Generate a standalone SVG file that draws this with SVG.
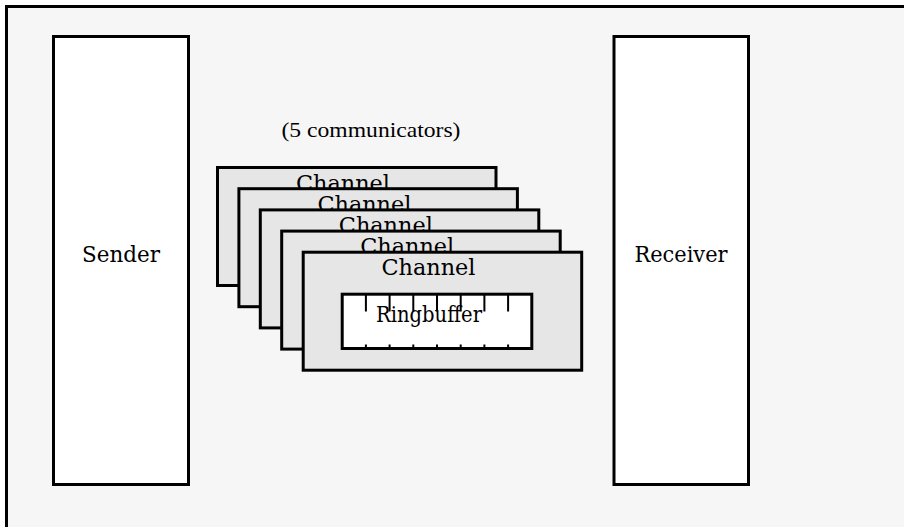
<svg xmlns="http://www.w3.org/2000/svg" width="904" height="527" viewBox="0 0 904 527">
  <style>
    .box { stroke: #000; stroke-width: 3; }
    .side { fill: #fff; }
    .chan { fill: #e6e6e6; }
    .ring { fill: #fff; }
    .tick { stroke: #000; stroke-width: 2; }
    .lbl { font-family: "DejaVu Serif", "Liberation Serif", serif; font-size: 23px; fill: #000; }
    .note { font-family: "Liberation Serif", serif; font-size: 22px; fill: #000; }
  </style>
  <rect x="0" y="0" width="904" height="527" fill="#fff"/>
  <!-- outer frame, running off the right and bottom edges -->
  <rect x="6.5" y="6.5" width="1000" height="1000" fill="#f6f6f6" class="box"/>

  <g id="sender">
    <rect x="53.5" y="36.5" width="135" height="448" class="box side"/>
    <text x="121" y="262" text-anchor="middle" class="lbl" textLength="78" lengthAdjust="spacingAndGlyphs">Sender</text>
  </g>

  <g id="receiver">
    <rect x="614" y="36.5" width="134.5" height="448" class="box side"/>
    <text x="681" y="262" text-anchor="middle" class="lbl" textLength="93" lengthAdjust="spacingAndGlyphs">Receiver</text>
  </g>

  <text id="count-note" x="281.5" y="137" class="note" textLength="179" lengthAdjust="spacingAndGlyphs">(5 communicators)</text>

  <!-- stacked channels, back to front -->
  <g id="channel-1">
    <rect x="217.5" y="167.5" width="278.5" height="118" class="box chan"/>
    <text x="296" y="190.5" class="lbl" textLength="94" lengthAdjust="spacingAndGlyphs">Channel</text>
  </g>
  <g id="channel-2">
    <rect x="238.9" y="188.7" width="278.5" height="118" class="box chan"/>
    <text x="317.4" y="211.7" class="lbl" textLength="94" lengthAdjust="spacingAndGlyphs">Channel</text>
  </g>
  <g id="channel-3">
    <rect x="260.3" y="209.9" width="278.5" height="118" class="box chan"/>
    <text x="338.8" y="232.9" class="lbl" textLength="94" lengthAdjust="spacingAndGlyphs">Channel</text>
  </g>
  <g id="channel-4">
    <rect x="281.7" y="231.1" width="278.5" height="118" class="box chan"/>
    <text x="360.2" y="254.1" class="lbl" textLength="94" lengthAdjust="spacingAndGlyphs">Channel</text>
  </g>
  <g id="channel-5">
    <rect x="303.2" y="252.2" width="278.5" height="118" class="box chan"/>
    <text x="381.5" y="275.2" class="lbl" textLength="94" lengthAdjust="spacingAndGlyphs">Channel</text>
  </g>

  <g id="ringbuffer">
    <rect x="342.2" y="294.2" width="189.6" height="54.3" class="box ring"/>
    <g class="tick">
      <path d="M365.9 294.2V311.5M389.6 294.2V311.5M413.3 294.2V311.5M437 294.2V311.5M460.7 294.2V311.5M484.4 294.2V311.5M508.1 294.2V311.5"/>
      <path d="M365.9 344.5V348.5M389.6 344.5V348.5M413.3 344.5V348.5M437 344.5V348.5M460.7 344.5V348.5M484.4 344.5V348.5M508.1 344.5V348.5"/>
    </g>
    <text x="376" y="322" class="lbl" textLength="106" lengthAdjust="spacingAndGlyphs">Ringbuffer</text>
  </g>

  <g id="connectors"/>
</svg>
